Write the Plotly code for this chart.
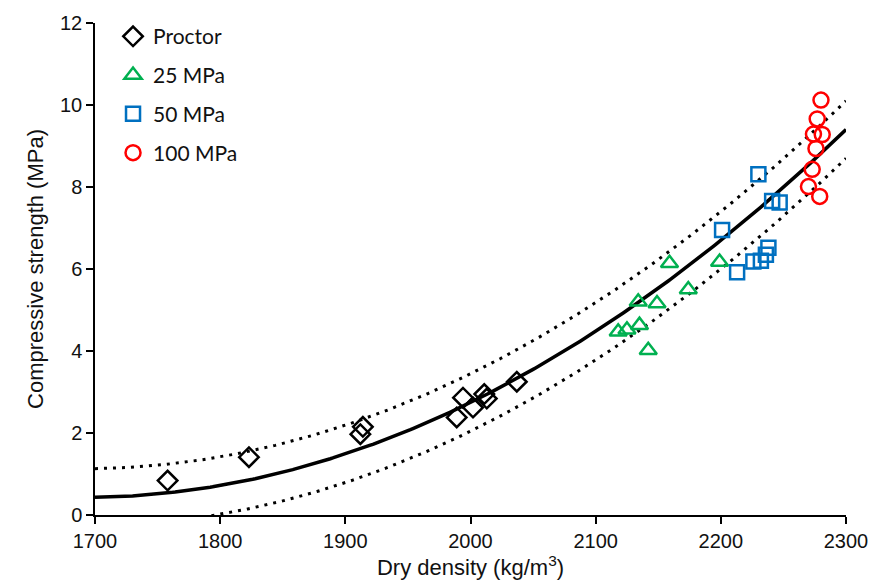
import numpy as np
import plotly.graph_objects as go

# --- data ---
proctor_x = [1758, 1823, 1912, 1914, 1989, 1994, 2002, 2011, 2013, 2037]
proctor_y = [0.84, 1.41, 1.97, 2.15, 2.38, 2.86, 2.62, 2.95, 2.84, 3.25]

mpa25_x = [2118, 2125, 2135, 2134, 2142, 2149, 2159, 2174, 2199]
mpa25_y = [4.47, 4.52, 4.63, 5.20, 4.02, 5.16, 6.14, 5.50, 6.17]

mpa50_x = [2201, 2213, 2226, 2232, 2236, 2238, 2230, 2241, 2247]
mpa50_y = [6.95, 5.92, 6.18, 6.20, 6.35, 6.52, 8.31, 7.66, 7.62]

mpa100_x = [2280, 2277, 2274, 2281, 2276, 2273, 2270, 2279]
mpa100_y = [10.12, 9.66, 9.29, 9.28, 8.94, 8.43, 8.01, 7.77]

# quadratic fit y = c0 + c1*(x-1700) + c2*(x-1700)^2, with +/- band
fit_coef = [0.43, 0.000475, 2.4125e-5]
band = 0.70

x_ticks = [1700, 1800, 1900, 2000, 2100, 2200, 2300]
y_ticks = [0, 2, 4, 6, 8, 10, 12]

xf = np.linspace(1700, 2300, 301)
u = xf - 1700
yf = fit_coef[0] + fit_coef[1] * u + fit_coef[2] * u ** 2

fig = go.Figure()

fig.add_trace(go.Scatter(x=xf, y=yf + band, mode="lines", showlegend=False,
                         line=dict(color="black", width=3, dash="3px,6px"), hoverinfo="skip"))
fig.add_trace(go.Scatter(x=xf, y=yf - band, mode="lines", showlegend=False,
                         line=dict(color="black", width=3, dash="3px,6px"), hoverinfo="skip"))
fig.add_trace(go.Scatter(x=xf, y=yf, mode="lines", showlegend=False,
                         line=dict(color="black", width=3.5), hoverinfo="skip"))

series = [
    ("Proctor", proctor_x, proctor_y, "diamond-open", "black", 15),
    ("25 MPa", mpa25_x, mpa25_y, "triangle-up-open", "#00B050", 15),
    ("50 MPa", mpa50_x, mpa50_y, "square-open", "#0070C0", 14),
    ("100 MPa", mpa100_x, mpa100_y, "circle-open", "#FF0000", 15),
]
for name, xs, ys, sym, col, sz in series:
    fig.add_trace(go.Scatter(x=xs, y=ys, mode="markers", name=name, legendgroup=name,
                             marker=dict(symbol=sym, size=sz, color=col,
                                         line=dict(color=col, width=2.5))))

axis_font = "Liberation Sans Narrow, Liberation Sans, Arial"
fig.update_layout(
    width=881, height=587,
    margin=dict(l=95, r=35, t=17, b=72),
    paper_bgcolor="white", plot_bgcolor="white",
    font=dict(family=axis_font, color="#111"),
    legend=dict(x=0.024, y=1.014, xanchor="left", yanchor="top",
                font=dict(family="Lato, Open Sans", size=21, color="#111"),
                bgcolor="rgba(0,0,0,0)", tracegroupgap=8.5, itemwidth=30),
    showlegend=True,
)
fig.update_xaxes(range=[1700, 2300], tickvals=x_ticks, ticktext=[str(v) for v in x_ticks],
                 showgrid=False, zeroline=False, showline=True, linecolor="black", linewidth=1.5,
                 ticks="outside", ticklen=7, tickwidth=1.5, tickcolor="black",
                 tickfont=dict(size=20, color="#111", family=axis_font),
                 title=dict(text="Dry density (kg/m<sup>3</sup>)",
                            font=dict(size=22, color="#111", family=axis_font), standoff=6))
fig.update_yaxes(range=[0, 12], tickvals=y_ticks, ticktext=[str(v) for v in y_ticks],
                 showgrid=False, zeroline=False, showline=True, linecolor="black", linewidth=1.5,
                 ticks="outside", ticklen=7, tickwidth=1.5, tickcolor="black",
                 tickfont=dict(size=20, color="#111", family=axis_font),
                 title=dict(text="Compressive strength (MPa)",
                            font=dict(size=22, color="#111", family=axis_font), standoff=10))

fig.write_html("out.html")
